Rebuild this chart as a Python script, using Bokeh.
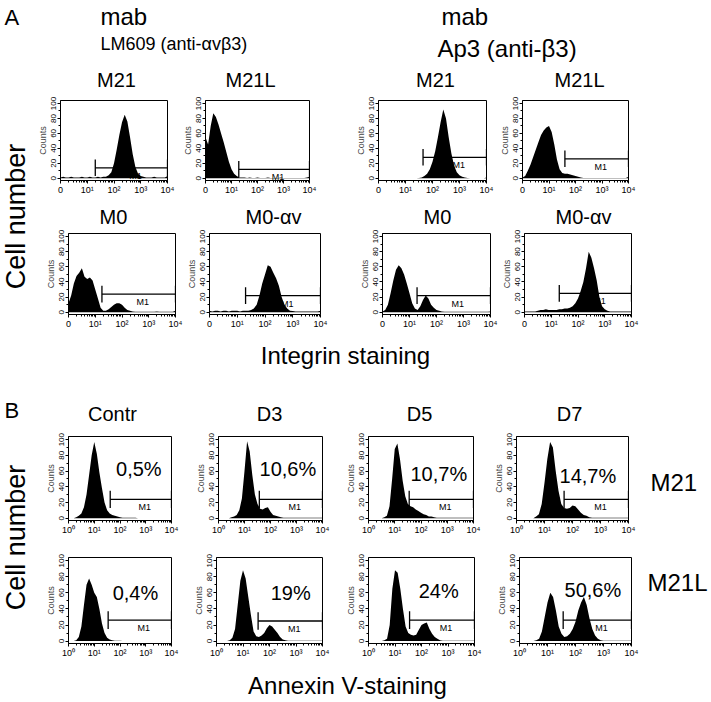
import math
from bokeh.plotting import figure
from bokeh.layouts import row, column
from bokeh.models import Range1d, FixedTicker, Spacer
from bokeh.core.properties import value
from bokeh.embed import file_html
from bokeh.resources import INLINE

FONT = "Liberation Sans"

# ---------------- data ----------------
# channel positions, log10 of fluorescence intensity
LOG_BINS = [0.0, 0.1, 0.2, 0.3, 0.4, 0.5, 0.6, 0.7, 0.8, 0.9,
            1.0, 1.1, 1.2, 1.3, 1.4, 1.5, 1.6, 1.7, 1.8, 1.9,
            2.0, 2.1, 2.2, 2.3, 2.4, 2.5, 2.6, 2.7, 2.8, 2.9,
            3.0, 3.1, 3.2, 3.3, 3.4, 3.5, 3.6, 3.7, 3.8, 3.9, 4.0]

# Panel A, mab LM609 (anti-avb3)
LM609_M21 = [1, 2, 1, 1, 2, 1, 1, 1, 2, 1,
             1, 2, 1, 1, 2, 1, 2, 2, 4, 8,
             20, 38, 58, 75, 85, 76, 55, 32, 15, 6,
             3, 2, 1, 1, 1, 2, 1, 1, 1, 1, 3]
LM609_M21L = [55, 45, 70, 87, 82, 72, 60, 48, 35, 22,
              12, 6, 3, 1, 1, 1, 0.5, 1, 0.5, 0.5,
              1, 0.5, 0.5, 0.5, 1, 0.5, 0.5, 0.5, 0.5, 1,
              0.5, 0.5, 0.5, 0.5, 0.5, 0.5, 0.5, 0.5, 0.5, 1, 2]
LM609_M0 = [12, 22, 38, 48, 52, 58, 47, 44, 46, 42,
            30, 18, 6, 2, 2, 4, 7, 10, 12, 12,
            10, 6, 3, 2, 1, 0.5, 0.5, 0.5, 0.5, 0.5,
            0.5, 0.5, 0.5, 1, 0.5, 0.5, 0.5, 0.5, 0.5, 0.5, 2]
LM609_M0AV = [2, 1, 2, 2, 1, 2, 2, 1, 2, 2,
              2, 1, 2, 2, 2, 3, 5, 10, 22, 38,
              50, 62, 60, 52, 45, 35, 20, 10, 5, 2,
              1.5, 1, 1, 1, 1, 1, 1, 1, 1, 1, 2]
# Panel A, mab Ap3 (anti-b3)
AP3_M21 = [0, 0, 0, 0, 0, 0, 0, 0, 0, 0,
           0, 0, 0, 0, 0, 0.5, 1, 3, 6, 12,
           22, 36, 55, 75, 92, 80, 55, 33, 17, 8,
           4, 2, 1, 0.5, 0, 0, 0, 0, 0, 0, 1]
AP3_M21L = [1, 3, 10, 18, 28, 38, 48, 58, 64, 68,
            70, 62, 45, 25, 12, 7, 6, 6, 5, 4,
            3, 2, 1, 0.5, 0.5, 0.5, 0.5, 0.5, 0.5, 0.5,
            0.5, 0.5, 0.5, 0.5, 0.5, 0.5, 0.5, 0.5, 0.5, 0.5, 2]
AP3_M0 = [1, 3, 10, 25, 42, 56, 62, 58, 50, 38,
          25, 12, 5, 3, 8, 16, 22, 18, 10, 6,
          3, 2, 1, 0.5, 0.5, 0.5, 0.5, 0.5, 0.5, 0.5,
          0.5, 0.5, 0.5, 0.5, 0.5, 0.5, 0.5, 0.5, 0.5, 0.5, 1]
AP3_M0AV = [1, 1, 1, 1, 1, 2, 3, 3, 4, 3,
            3, 3, 3, 4, 4, 5, 5, 6, 8, 12,
            18, 28, 40, 58, 80, 72, 58, 42, 20, 8,
            4, 2, 1, 1, 1, 1, 1, 1, 1, 1, 1]
# Panel B, Annexin V staining
M21_CONTR = [0, 0, 0, 1, 3, 6, 14, 30, 55, 80,
             97, 82, 58, 38, 20, 10, 6, 4, 3, 2,
             1, 0.5, 0.5, 0.5, 0.5, 0.5, 0.5, 0, 0, 0,
             0, 0, 0, 0, 0, 0, 0, 0, 0, 0, 0]
M21_D3 = [0, 0, 0, 0, 0, 1, 2, 4, 10, 25,
          60, 98, 85, 55, 30, 18, 12, 11, 13, 14,
          8, 4, 3, 2, 1, 0.5, 0.5, 0.5, 0.5, 0.5,
          0.5, 0.5, 0.5, 0.5, 0.5, 0.5, 0.5, 0.5, 0.5, 0.5, 0.5]
M21_D5 = [0, 0, 0, 0, 0, 0, 1, 3, 15, 50,
          88, 95, 75, 48, 28, 18, 15, 14, 11, 9,
          7, 5, 4, 2, 2, 1, 0.5, 0.5, 0.5, 0.5,
          0.5, 0.5, 0.5, 0.5, 0.5, 0.5, 0.5, 0.5, 0.5, 0.5, 0.5]
M21_D7 = [0, 0, 0, 0, 0, 0, 0, 2, 5, 18,
          45, 75, 97, 90, 60, 35, 18, 13, 12, 13,
          16, 15, 11, 7, 4, 3, 1, 0.5, 0.5, 0.5,
          0.5, 0.5, 0.5, 0.5, 0.5, 0.5, 0.5, 0.5, 0.5, 0.5, 0.5]
M21L_CONTR = [0, 0, 0, 1, 5, 18, 45, 70, 78, 70,
              60, 55, 40, 22, 10, 4, 2, 1, 0.5, 0.5,
              0.5, 0, 0, 0, 0, 0, 0, 0, 0, 0,
              0, 0, 0, 0, 0, 0, 0, 0, 0, 0, 0]
M21L_D3 = [0, 0, 0, 0, 0, 1, 4, 15, 45, 75,
           88, 78, 55, 32, 12, 6, 5, 7, 10, 16,
           20, 18, 14, 10, 5, 2, 1, 0.5, 0.5, 0.5,
           0.5, 0.5, 0.5, 0.5, 0.5, 0.5, 0.5, 0.5, 0.5, 0.5, 0.5]
M21L_D5 = [0, 0, 0, 0, 0, 0, 1, 3, 20, 65,
           88, 85, 65, 40, 18, 10, 8, 7, 8, 14,
           20, 22, 23, 15, 9, 5, 3, 1, 0.5, 0.5,
           0.5, 0.5, 0.5, 0.5, 0.5, 0.5, 0.5, 0.5, 0.5, 0.5, 0.5]
M21L_D7 = [0, 0, 0, 0, 0, 0, 1, 3, 12, 30,
           48, 60, 55, 38, 18, 9, 5, 6, 9, 15,
           24, 38, 48, 55, 45, 28, 15, 7, 3, 1,
           0.5, 0.5, 0.5, 0.5, 0.5, 0.5, 0.5, 0.5, 0.5, 0.5, 0.5]

# M1 gate: start (log10) and level (counts) per panel
A_GATE_START = [1.3, 1.28, 1.65, 1.6, 1.25, 1.3, 1.28, 1.3]
A_GATE_LEVEL = [14, 12, 28, 26, 24, 22, 22, 25]
B_GATE_START = [1.62, 1.57, 1.55, 1.7, 1.54, 1.57, 1.55, 1.56]
B_GATE_LEVEL = [24, 24, 24, 24, 26, 25, 26, 26]

# percentages of Annexin V positive cells
B_PCT = ["0,5%", "10,6%", "10,7%", "14,7%", "0,4%", "19%", "24%", "50,6%"]

DECADE_TICKS = [1, 10, 100, 1000, 10000]
A_TICK_LABELS = ["0", "10¹", "10²", "10³", "10⁴"]
B_TICK_LABELS = ["10⁰", "10¹", "10²", "10³", "10⁴"]
COUNT_TICKS = [0, 20, 40, 60, 80, 100]

A_TITLES_ROW1 = ["M21", "M21L", "M21", "M21L"]
A_TITLES_ROW2 = ["M0", "M0-αv", "M0", "M0-αv"]
B_TITLES = ["Contr", "D3", "D5", "D7"]
B_ROW_LABELS = ["M21", "M21L"]

# ---------------- layout / style ----------------
LB, RB, BB = 25, 8, 20
LOG_MINOR = [m * 10 ** d for d in range(4) for m in range(2, 10)]
COUNT_MINOR = [10, 30, 50, 70, 90]


def panel(counts, fw, fh, tb, gate_start, gate_level, tick_labels, pct=None, pct_pos=None):
    p = figure(width=LB + fw + RB, height=tb + fh + BB, x_axis_type="log",
               x_range=Range1d(1, 10000), y_range=Range1d(-3, 104),
               output_backend="svg", toolbar_location=None,
               min_border_left=LB, min_border_right=RB,
               min_border_top=tb, min_border_bottom=BB,
               background_fill_color="white", border_fill_color="white",
               outline_line_color="black", outline_line_width=1)
    p.xgrid.visible = False
    p.ygrid.visible = False
    xs = [10 ** b for b in LOG_BINS]
    g0 = 10 ** gate_start
    mid = 10 ** ((gate_start + 4) / 2 + 0.15)
    p.text(x=[mid], y=[gate_level - 4], text=["M1"], text_font=value(FONT),
           text_font_size="9px", text_align="center", text_baseline="top",
           text_color="black")
    if pct is not None:
        p.text(x=[10 ** pct_pos[0]], y=[pct_pos[1]], text=[pct], text_font=value(FONT),
               text_font_size="20px", text_align="center", text_baseline="middle",
               text_color="black")
    p.varea(x=xs, y1=0, y2=counts, fill_color="black")
    p.segment(x0=[g0, g0, 10000], y0=[gate_level, gate_level - 11, gate_level - 11],
              x1=[10000, g0, 10000], y1=[gate_level, gate_level + 11, gate_level + 11],
              line_color="black", line_width=1.3)
    xa = p.xaxis[0]
    xa.ticker = FixedTicker(ticks=DECADE_TICKS, minor_ticks=LOG_MINOR)
    xa.major_label_overrides = dict(zip(DECADE_TICKS, tick_labels))
    ya = p.yaxis[0]
    ya.ticker = FixedTicker(ticks=COUNT_TICKS, minor_ticks=COUNT_MINOR)
    ya.major_label_orientation = "vertical"
    ya.axis_label = "Counts"
    ya.axis_label_text_font = FONT
    ya.axis_label_text_font_size = "9px"
    ya.axis_label_text_font_style = "normal"
    ya.axis_label_standoff = 1
    for ax in (xa, ya):
        ax.axis_line_color = "black"
        ax.major_tick_line_color = "black"
        ax.minor_tick_line_color = "black"
        ax.major_tick_in = 0
        ax.major_tick_out = 3
        ax.minor_tick_in = 0
        ax.minor_tick_out = 2
        ax.major_label_standoff = 1
        ax.major_label_text_font = FONT
        ax.major_label_text_color = "black"
    xa.major_label_text_font_size = "9px"
    ya.major_label_text_font_size = "8px"
    return p


def band(x0, x1, y0, y1):
    # a text-only strip whose data coordinates equal page pixel coordinates
    return figure(width=x1 - x0, height=y1 - y0, x_range=Range1d(x0, x1),
                  y_range=Range1d(y1, y0), x_axis_type=None, y_axis_type=None,
                  output_backend="svg", toolbar_location=None, min_border=0,
                  outline_line_color=None, background_fill_color="white",
                  border_fill_color="white")


def label(f, x, y, s, size, align="left", angle=0.0):
    f.text(x=[x], y=[y], text=[s], text_font=value(FONT), text_font_size=size,
           text_align=align, text_baseline="middle", angle=angle, text_color="black")


# ---- Panel A ----
headerA = band(0, 711, 0, 95)
label(headerA, 4, 17, "A", "22px")
label(headerA, 100, 16, "mab", "24px")
label(headerA, 100, 43, "LM609 (anti-αvβ3)", "18px")
label(headerA, 441, 16, "mab", "24px")
label(headerA, 437, 48, "Ap3 (anti-β3)", "24px")
for cx, t in zip([116, 250, 435, 579], A_TITLES_ROW1):
    label(headerA, cx, 79, t, "20px", align="center")

leftA = band(0, 34, 95, 334)
label(leftA, 15, 216, "Cell number", "27px", align="center", angle=math.pi / 2)

A1 = panel(LM609_M21, 108, 80, 5, A_GATE_START[0], A_GATE_LEVEL[0], A_TICK_LABELS)
A2 = panel(LM609_M21L, 105, 80, 5, A_GATE_START[1], A_GATE_LEVEL[1], A_TICK_LABELS)
A3 = panel(AP3_M21, 109, 80, 5, A_GATE_START[2], A_GATE_LEVEL[2], A_TICK_LABELS)
A4 = panel(AP3_M21L, 107, 80, 5, A_GATE_START[3], A_GATE_LEVEL[3], A_TICK_LABELS)
A5 = panel(LM609_M0, 108, 81, 5, A_GATE_START[4], A_GATE_LEVEL[4], A_TICK_LABELS)
A6 = panel(LM609_M0AV, 112, 81, 5, A_GATE_START[5], A_GATE_LEVEL[5], A_TICK_LABELS)
A7 = panel(AP3_M0, 109, 81, 5, A_GATE_START[6], A_GATE_LEVEL[6], A_TICK_LABELS)
A8 = panel(AP3_M0AV, 108, 81, 5, A_GATE_START[7], A_GATE_LEVEL[7], A_TICK_LABELS)

titlesA2 = band(34, 639, 200, 228)
for cx, t in zip([113, 273, 437, 583], A_TITLES_ROW2):
    label(titlesA2, cx, 216, t, "20px", align="center")

rowA1 = row(A1, Spacer(width=4, height=105), A2, Spacer(width=35, height=105), A3,
            Spacer(width=2, height=105), A4)
rowA2 = row(Spacer(width=8, height=106), A5, A6, Spacer(width=28, height=106), A7, A8)
sectionA = column(headerA, row(leftA, column(rowA1, titlesA2, rowA2)))

integrin = band(0, 711, 334, 378)
label(integrin, 345, 355, "Integrin staining", "24px", align="center")

# ---- Panel B ----
titlesB = band(0, 711, 378, 431)
label(titlesB, 4, 410, "B", "22px")
for cx, t in zip([112, 269, 419, 569], B_TITLES):
    label(titlesB, cx, 413, t, "20px", align="center")

leftB = band(0, 42, 431, 663)
label(leftB, 15, 537, "Cell number", "27px", align="center", angle=math.pi / 2)

B1 = panel(M21_CONTR, 104, 84, 5, B_GATE_START[0], B_GATE_LEVEL[0], B_TICK_LABELS, B_PCT[0], (2.73, 63))
B2 = panel(M21_D3, 105, 84, 5, B_GATE_START[1], B_GATE_LEVEL[1], B_TICK_LABELS, B_PCT[1], (2.67, 62))
B3 = panel(M21_D5, 106, 84, 5, B_GATE_START[2], B_GATE_LEVEL[2], B_TICK_LABELS, B_PCT[2], (2.68, 56))
B4 = panel(M21_D7, 113, 84, 5, B_GATE_START[3], B_GATE_LEVEL[3], B_TICK_LABELS, B_PCT[3], (2.55, 54))
B5 = panel(M21L_CONTR, 104, 86, 17, B_GATE_START[4], B_GATE_LEVEL[4], B_TICK_LABELS, B_PCT[4], (2.6, 60))
B6 = panel(M21L_D3, 107, 86, 17, B_GATE_START[5], B_GATE_LEVEL[5], B_TICK_LABELS, B_PCT[5], (2.8, 60))
B7 = panel(M21L_D5, 107, 86, 17, B_GATE_START[6], B_GATE_LEVEL[6], B_TICK_LABELS, B_PCT[6], (2.65, 62))
B8 = panel(M21L_D7, 113, 86, 17, B_GATE_START[7], B_GATE_LEVEL[7], B_TICK_LABELS, B_PCT[7], (2.62, 63))

rowB1 = row(B1, Spacer(width=13, height=109), B2, Spacer(width=12, height=109), B3,
            Spacer(width=9, height=109), B4)
rowB2 = row(B5, Spacer(width=11, height=123), B6, Spacer(width=12, height=123), B7,
            Spacer(width=11, height=123), B8)

rightB = band(639, 711, 431, 663)
label(rightB, 650, 482, B_ROW_LABELS[0], "24px")
label(rightB, 647, 582, B_ROW_LABELS[1], "24px")

sectionB = row(leftB, column(rowB1, rowB2), rightB)

annexin = band(0, 711, 663, 702)
label(annexin, 347, 685, "Annexin V-staining", "24px", align="center")

page = column(sectionA, integrin, titlesB, sectionB, annexin)

open("out.html", "w").write(file_html(page, INLINE))
